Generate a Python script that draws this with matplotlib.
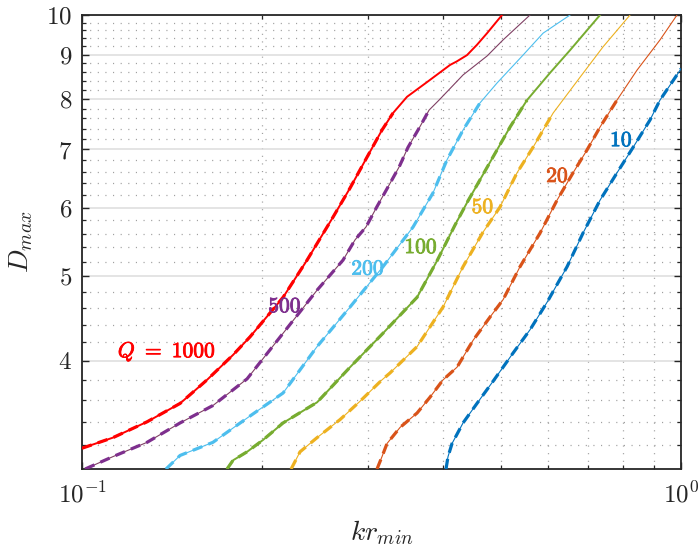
import numpy as np
import matplotlib.pyplot as plt
from matplotlib import patheffects

plt.rcParams['font.family'] = 'serif'
plt.rcParams['font.serif'] = ['cmr10']
plt.rcParams['mathtext.fontset'] = 'cm'
plt.rcParams['axes.formatter.use_mathtext'] = True

# D_max against kr_min for each quality factor Q
kr_10 = [0.4052, 0.4083, 0.4147, 0.4326, 0.4564, 0.4874, 0.5243, 0.5596, 0.5977, 0.6453,
         0.6862, 0.7325, 0.7818, 0.8317, 0.8876, 0.9223, 1.0]
d_10 = [3.00, 3.10, 3.21, 3.39, 3.57, 3.80, 4.08, 4.34, 4.67, 5.13,
        5.61, 6.12, 6.58, 7.04, 7.57, 7.98, 8.67]

kr_20 = [0.3108, 0.3168, 0.3230, 0.3396, 0.3625, 0.3811, 0.4006, 0.4227, 0.4496, 0.4800,
         0.5045, 0.5385, 0.5817, 0.6209, 0.6603, 0.6966, 0.7325, 0.7818, 0.8444, 0.9223, 0.9847]
d_20 = [3.00, 3.10, 3.21, 3.35, 3.48, 3.63, 3.80, 3.93, 4.22, 4.49,
        4.70, 5.13, 5.61, 6.12, 6.58, 6.99, 7.43, 7.98, 8.64, 9.36, 10.0]

kr_50 = [0.2234, 0.2312, 0.2468, 0.2696, 0.2911, 0.3168, 0.3267, 0.3625, 0.4006, 0.4326,
         0.4670, 0.4987, 0.5323, 0.5661, 0.6116, 0.6784, 0.7410, 0.8220]
d_50 = [3.00, 3.14, 3.26, 3.42, 3.59, 3.80, 3.87, 4.15, 4.61, 5.13,
        5.62, 6.01, 6.58, 7.04, 7.71, 8.48, 9.19, 10.0]

kr_100 = [0.1746, 0.1787, 0.1886, 0.2005, 0.2166, 0.2468, 0.2802, 0.3180, 0.3625, 0.3914,
          0.4195, 0.4410, 0.4800, 0.5183, 0.5532, 0.6046, 0.6528, 0.7325]
d_100 = [3.00, 3.07, 3.14, 3.24, 3.39, 3.58, 3.93, 4.30, 4.73, 5.21,
         5.73, 6.11, 6.77, 7.43, 7.98, 8.58, 9.11, 10.0]

kr_200 = [0.1381, 0.1458, 0.1654, 0.1893, 0.2166, 0.2468, 0.2802, 0.3180, 0.3570, 0.3855,
          0.4067, 0.4326, 0.4617, 0.4930, 0.5447, 0.5885, 0.6528]
d_200 = [3.00, 3.11, 3.22, 3.44, 3.67, 4.15, 4.61, 5.13, 5.70, 6.24,
         6.81, 7.37, 7.92, 8.35, 8.99, 9.53, 10.0]

kr_500 = [0.1012, 0.1126, 0.1284, 0.1458, 0.1654, 0.1886, 0.2166, 0.2468, 0.2727, 0.2857,
          0.2979, 0.3105, 0.3243, 0.3386, 0.3501, 0.3667, 0.3796, 0.3945, 0.4326, 0.4745,
          0.5045, 0.5596]
d_500 = [3.00, 3.10, 3.22, 3.39, 3.55, 3.81, 4.30, 4.82, 5.22, 5.51,
         5.70, 6.01, 6.34, 6.69, 7.04, 7.44, 7.77, 7.98, 8.53, 8.97,
         9.36, 10.0]

kr_1000 = [0.100, 0.1126, 0.1284, 0.1458, 0.1617, 0.1787, 0.1908, 0.2166, 0.2375, 0.2624,
           0.2802, 0.2991, 0.3168, 0.3305, 0.3488, 0.3767, 0.4116, 0.4221, 0.4392, 0.4564,
           0.4745, 0.5026]
d_1000 = [3.17, 3.26, 3.40, 3.57, 3.80, 4.06, 4.26, 4.73, 5.22, 5.85,
          6.32, 6.86, 7.37, 7.71, 8.05, 8.37, 8.76, 8.84, 8.99, 9.24,
          9.53, 10.0]

# the fitted (dashed) curves stop at these kr_min
fit_end = [1.0, 0.79, 0.62, 0.554, 0.47, 0.38, 0.331]

labels = ['10', '20', '50', '100', '200', '500', '1000']
label_x = [0.7953, 0.6221, 0.4670, 0.3682, 0.3003, 0.2182, 0.1386]
label_y = [7.17, 6.52, 6.01, 5.40, 5.10, 4.62, 4.10]

colors = ['#0072BD', '#D95319', '#EDB120', '#77AC30', '#4DBEEE', '#7E2F8E', '#FF0000']
thin_colors = ['#0072BD', '#D95319', '#EDB120', '#77AC30', '#4DBEEE', '#7F3F63', '#FF0000']
thin_lw = [0.8, 0.8, 0.8, 1.4, 0.8, 0.8, 1.4]

curves = [(kr_10, d_10), (kr_20, d_20), (kr_50, d_50), (kr_100, d_100),
          (kr_200, d_200), (kr_500, d_500), (kr_1000, d_1000)]

fig = plt.figure(figsize=(6.98, 5.51), dpi=100)
ax = fig.add_axes([0.1175, 0.1488, 0.8582, 0.8240])
ax.set_xscale('log')
ax.set_yscale('log')

for i, (kr, d) in enumerate(curves):
    kr = np.array(kr)
    d = np.array(d)
    ax.plot(kr, d, '-', color=thin_colors[i], lw=thin_lw[i], zorder=3)
    m = kr <= fit_end[i]
    ax.plot(kr[m], d[m], color=colors[i], lw=2.3, dashes=(3.2, 2.0),
            dash_joinstyle='round', zorder=4)

for i in range(len(labels)):
    txt = r'$\mathbf{%s}$' % labels[i]
    if labels[i] == '1000':
        txt = r'$Q\ \mathbf{=\ 1000}$'
    t = ax.text(label_x[i], label_y[i], txt, color=colors[i], fontsize=15.5,
                ha='center', va='center', zorder=5)
    t.set_path_effects([patheffects.withStroke(linewidth=0.6, foreground=colors[i])])

ax.set_xlim(0.1, 1.0)
ax.set_ylim(3.0, 10.0)

ax.set_xticks([0.1, 1.0], labels=[r'$10^{-1}$', r'$10^{0}$'])
ax.set_xticks([0.2, 0.3, 0.4, 0.5, 0.6, 0.7, 0.8, 0.9], minor=True, labels=[])
yt = [4, 5, 6, 7, 8, 9, 10]
ax.set_yticks(yt, labels=[r'$%d$' % v for v in yt])
ym = [v for v in np.round(np.arange(3.2, 10.0, 0.2), 1) if abs(v - round(v)) > 1e-6]
ax.set_yticks(ym, minor=True, labels=[])

ax.grid(which='major', color='#dcdcdc', lw=1.1, ls='-', zorder=0)
ax.grid(which='minor', color='#a0a0a0', lw=0.9, ls=(0, (0.9, 5.2)), zorder=0)
ax.set_axisbelow(True)

ax.tick_params(which='both', direction='in', top=True, right=True,
               color='#262626', labelsize=18, labelcolor='#262626')
ax.tick_params(which='major', length=5, width=1.0)
ax.tick_params(which='minor', length=3, width=0.9)
ax.tick_params(axis='x', pad=9)
ax.tick_params(axis='y', pad=7)
for s in ax.spines.values():
    s.set_color('#262626')
    s.set_linewidth(1.3)

ax.set_xlabel(r'$kr_{min}$', fontsize=20, color='#262626', labelpad=8)
ax.set_ylabel(r'$D_{max}$', fontsize=20, color='#262626', labelpad=8)

fig.savefig('out.png', dpi=100)
